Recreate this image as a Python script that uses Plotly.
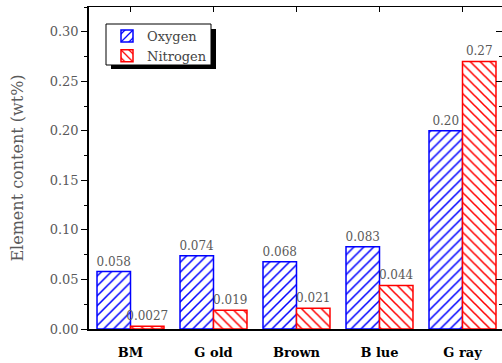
import plotly.graph_objects as go

categories = ["BM", "G old", "Brown", "B lue", "G ray"]
oxygen = [0.058, 0.074, 0.068, 0.083, 0.20]
nitrogen = [0.0027, 0.019, 0.021, 0.044, 0.27]
oxygen_labels = ["0.058", "0.074", "0.068", "0.083", "0.20"]
nitrogen_labels = ["0.0027", "0.019", "0.021", "0.044", "0.27"]
y_ticks = [0.00, 0.05, 0.10, 0.15, 0.20, 0.25, 0.30]

W, H = 502, 363
L, R, T, B = 89, 0, 7, 34
PW, PH = W - L - R, H - T - B
YMAX = 0.325
XR = [-0.5, -0.5 + PW / 83.0]

serif = "DejaVu Serif"
grey = "#5a5a5a"

fig = go.Figure()
fig.add_trace(go.Bar(
    x=list(range(len(categories))), y=oxygen, name="Oxygen",
    text=oxygen_labels, textposition="outside", cliponaxis=False,
    constraintext="none",
    textfont=dict(family=serif, size=12, color=grey),
    marker=dict(color="white", line=dict(color="#0000ff", width=1.5),
                pattern=dict(shape="/", fgcolor="#0000ff", bgcolor="white",
                             fgopacity=1, size=7, solidity=0.22)),
))
fig.add_trace(go.Bar(
    x=list(range(len(categories))), y=nitrogen, name="Nitrogen",
    text=nitrogen_labels, textposition="outside", cliponaxis=False,
    constraintext="none",
    textfont=dict(family=serif, size=12, color=grey),
    marker=dict(color="white", line=dict(color="#ff0000", width=1.5),
                pattern=dict(shape="\\", fgcolor="#ff0000", bgcolor="white",
                             fgopacity=1, size=7, solidity=0.22)),
))
# empty helper trace so the mirrored top/right axes are drawn
fig.add_trace(go.Scatter(x=[], y=[], xaxis="x2", yaxis="y2", showlegend=False,
                         hoverinfo="skip"))

def px_to_paper_x(px):
    return (px - L) / PW

def px_to_paper_y(py):
    return 1 - (py - T) / PH

fig.update_layout(
    width=W, height=H,
    font=dict(family=serif),
    margin=dict(l=L, r=R, t=T, b=B, pad=0, autoexpand=False),
    paper_bgcolor="white", plot_bgcolor="white",
    barmode="group", bargap=0.193, bargroupgap=0,
    showlegend=True,
    legend=dict(x=px_to_paper_x(107), y=px_to_paper_y(21),
                xanchor="left", yanchor="top",
                bgcolor="rgba(0,0,0,0)", borderwidth=0,
                font=dict(family=serif, size=13, color="#444"),
                itemwidth=30, tracegroupgap=0,
                traceorder="normal"),
    xaxis=dict(range=XR, tickmode="array", automargin=False,
               tickvals=list(range(len(categories))), ticktext=categories,
               showline=True, linecolor="black", linewidth=2,
               ticks="", showgrid=False, zeroline=False, ticklabelstandoff=10,
               tickfont=dict(family=serif, size=13, color="black", weight="bold")),
    yaxis=dict(range=[0, YMAX], tickvals=y_ticks, tickformat=".2f", automargin=False,
               showline=True, linecolor="black", linewidth=1.5,
               ticks="outside", ticklen=6, tickwidth=1, tickcolor="black",
               minor=dict(dtick=0.025, ticks="outside", ticklen=3, tickcolor="black"),
               showgrid=False, zeroline=False,
               tickfont=dict(family=serif, size=13, color=grey),
               title=dict(text="Element content (wt%)", standoff=22,
                          font=dict(family=serif, size=16, color=grey))),
    xaxis2=dict(overlaying="x", side="top", range=XR, automargin=False,
                tickmode="array", tickvals=list(range(len(categories))),
                showticklabels=False, showline=True, linecolor="black", linewidth=1,
                ticks="inside", ticklen=5, tickcolor="black",
                showgrid=False, zeroline=False),
    yaxis2=dict(overlaying="y", side="right", range=[0, YMAX], tickvals=y_ticks,
                showticklabels=False, showline=False, automargin=False,
                ticks="inside", ticklen=6, tickcolor="black",
                minor=dict(dtick=0.025, ticks="inside", ticklen=3, tickcolor="black"),
                showgrid=False, zeroline=False),
    shapes=[
        dict(type="rect", xref="paper", yref="paper",
             x0=px_to_paper_x(111), x1=px_to_paper_x(216),
             y0=px_to_paper_y(69), y1=px_to_paper_y(29),
             fillcolor="black", line=dict(width=0), layer="above"),
        dict(type="rect", xref="paper", yref="paper",
             x0=px_to_paper_x(106), x1=px_to_paper_x(211),
             y0=px_to_paper_y(65), y1=px_to_paper_y(24),
             fillcolor="white", line=dict(color="black", width=1), layer="above"),
    ],
)

fig.write_html("out.html",
               config={"displayModeBar": False},
               post_script="document.body.style.margin='0';document.body.style.overflow='hidden';")
